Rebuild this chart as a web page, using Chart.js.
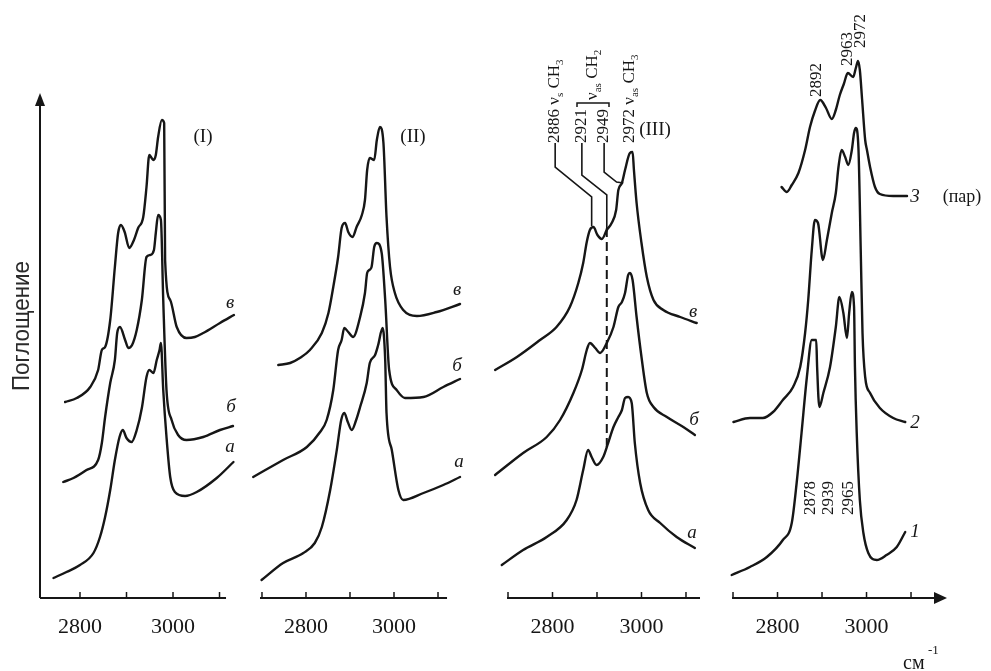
<!DOCTYPE html>
<html><head><meta charset="utf-8">
<script src="https://cdn.jsdelivr.net/npm/chart.js@4.4.0/dist/chart.umd.min.js"></script>
<style>
html,body{margin:0;padding:0;background:#fff;}
#wrap{position:relative;width:991px;height:671px;overflow:hidden;background:#fff;}
#wrap canvas{position:absolute;left:0;top:0;}
</style></head><body>
<div id="wrap">
<canvas id="c1" width="991" height="671"></canvas>
<canvas id="c2" width="991" height="671"></canvas>
<canvas id="c3" width="991" height="671"></canvas>
<canvas id="c4" width="991" height="671"></canvas>
</div>
<script>
// ---------- DATA (wavenumber, cm-1 ; absorbance, arb. units, curves offset) ----------
// Panel I
const wnIa  = [2743,2771,2800,2829,2843,2854,2865,2875,2885,2892,2900,2911,2922,2933,2943,2949,2958,2965,2971,2974,2979,2986,2994,3004,3026,3051,3094,3130];
const absIa = [0.20,0.26,0.33,0.45,0.61,0.81,1.08,1.38,1.61,1.68,1.60,1.56,1.68,1.90,2.21,2.28,2.25,2.38,2.48,2.55,2.08,1.61,1.21,1.06,1.02,1.06,1.20,1.36];
const wnIb  = [2764,2786,2814,2839,2847,2854,2865,2875,2880,2886,2897,2904,2912,2922,2933,2943,2951,2959,2963,2968,2974,2979,2986,2997,3011,3029,3065,3101,3129];
const absIb = [1.16,1.20,1.28,1.38,1.55,1.81,2.15,2.38,2.65,2.71,2.58,2.50,2.53,2.68,2.98,3.41,3.43,3.48,3.65,3.83,3.78,2.98,2.08,1.78,1.63,1.58,1.61,1.68,1.72];
const wnIc  = [2768,2793,2822,2839,2847,2854,2865,2875,2882,2888,2896,2906,2916,2925,2936,2943,2949,2954,2958,2963,2968,2976,2981,2983,2994,3008,3029,3047,3065,3101,3131];
const absIc = [1.96,2.00,2.11,2.28,2.48,2.51,2.78,3.31,3.65,3.73,3.66,3.50,3.58,3.70,3.81,4.11,4.43,4.40,4.38,4.43,4.61,4.78,4.75,3.38,2.98,2.71,2.60,2.61,2.65,2.75,2.83];
// Panel II
const wnIIa  = [2699,2748,2794,2820,2836,2855,2870,2880,2887,2895,2904,2914,2923,2938,2945,2957,2964,2974,2980,2983,2995,3010,3021,3067,3112,3150];
const absIIa = [0.18,0.35,0.45,0.55,0.71,1.08,1.48,1.78,1.85,1.76,1.68,1.78,1.91,2.15,2.35,2.43,2.53,2.70,2.38,1.85,1.48,1.08,0.98,1.05,1.13,1.21];
const wnIIb  = [2680,2748,2802,2832,2847,2862,2873,2881,2887,2896,2907,2923,2934,2939,2944,2949,2955,2961,2972,2980,2989,3006,3025,3067,3112,3150];
const absIIb = [1.21,1.38,1.51,1.66,1.78,2.08,2.48,2.58,2.70,2.66,2.61,2.81,3.05,3.25,3.28,3.31,3.51,3.55,3.45,2.98,2.28,2.08,2.00,2.01,2.11,2.19];
const wnIIc  = [2737,2764,2786,2809,2836,2851,2862,2873,2881,2889,2896,2906,2915,2927,2934,2939,2945,2955,2961,2968,2976,2983,2991,3002,3021,3052,3097,3150];
const absIIc = [2.33,2.35,2.40,2.48,2.65,2.85,3.11,3.41,3.70,3.75,3.66,3.61,3.71,3.83,3.98,4.28,4.40,4.38,4.58,4.71,4.55,3.81,3.31,3.05,2.88,2.82,2.86,2.94];
// Panel III
const wnIIIa  = [2686,2734,2787,2832,2854,2869,2880,2888,2899,2914,2925,2937,2948,2956,2963,2970,2978,2985,2997,3015,3042,3079,3120];
const absIIIa = [0.33,0.48,0.61,0.78,0.98,1.28,1.48,1.41,1.33,1.41,1.55,1.71,1.81,1.88,2.00,2.01,1.95,1.55,1.15,0.88,0.75,0.61,0.50];
const wnIIIb  = [2671,2734,2787,2817,2847,2866,2877,2884,2896,2907,2922,2937,2948,2956,2963,2970,2974,2980,2989,3000,3012,3027,3057,3094,3120];
const absIIIb = [1.23,1.45,1.61,1.78,2.05,2.28,2.48,2.55,2.50,2.45,2.55,2.71,2.91,2.96,3.05,3.23,3.25,3.18,2.81,2.41,2.05,1.91,1.81,1.71,1.63];
const wnIIIc  = [2671,2720,2772,2809,2839,2858,2869,2877,2884,2892,2901,2911,2922,2933,2943,2948,2956,2963,2974,2980,2983,2989,3000,3012,3027,3049,3087,3124];
const absIIIc = [2.28,2.41,2.58,2.71,2.91,3.15,3.35,3.56,3.68,3.71,3.63,3.59,3.68,3.75,3.88,4.08,4.15,4.28,4.45,4.46,4.28,3.95,3.55,3.21,2.98,2.88,2.81,2.75];
// Panel IV
const wnIV1  = [2697,2738,2776,2812,2832,2843,2854,2866,2877,2887,2889,2894,2903,2918,2931,2939,2948,2956,2961,2967,2972,2974,2978,2985,2993,3004,3023,3045,3068,3087];
const absIV1 = [0.23,0.31,0.41,0.58,0.75,1.15,1.65,2.21,2.58,2.58,2.31,1.91,2.05,2.31,2.71,3.01,2.85,2.60,2.85,3.06,2.91,2.31,1.65,0.98,0.65,0.45,0.38,0.43,0.51,0.66];
const wnIV2  = [2701,2738,2767,2790,2812,2835,2851,2862,2869,2877,2884,2891,2902,2911,2922,2931,2937,2944,2952,2959,2967,2972,2976,2982,2987,2991,2997,3008,3030,3060,3087];
const absIV2 = [1.76,1.80,1.80,1.86,1.98,2.11,2.31,2.65,2.98,3.48,3.78,3.75,3.38,3.58,3.85,4.05,4.31,4.48,4.41,4.33,4.48,4.65,4.70,4.48,3.48,2.65,2.21,2.05,1.90,1.80,1.76];
const wnIV3  = [2809,2821,2832,2847,2862,2873,2884,2896,2909,2922,2931,2940,2949,2958,2970,2976,2981,2985,2990,2997,3001,3008,3019,3030,3060,3091];
const absIV3 = [4.11,4.06,4.13,4.25,4.48,4.71,4.87,4.98,4.90,4.79,4.88,5.03,5.14,5.25,5.21,5.30,5.37,5.28,4.99,4.58,4.48,4.31,4.11,4.04,4.02,4.02];

// axis ticks
const tickValues = [2700, 2800, 2900, 3000, 3100];
const tickLabels = [2800, 3000];

// band assignments (panel III leaders, data units)
const leader2886 = [[2806,4.55],[2806,4.31],[2888,4.01],[2888,3.72]];
const leader2921 = [[2866,4.55],[2866,4.23],[2922,4.03],[2922,3.70]];
const leader2949 = [[2916,4.55],[2916,4.26],[2944,4.16],[2959,4.15]];
const dashed2921 = [[2922,3.70],[2922,1.51]];

// ---------- helpers ----------
function zip(xs, ys){ const n=Math.min(xs.length, ys.length); const o=[]; for(let i=0;i<n;i++) o.push({x:xs[i], y:ys[i]}); return o; }
const SERIF = '"Liberation Serif", "Times New Roman", serif';
const INK = '#161616';

function rotRich(ctx, x, yb, parts, size){
  ctx.save(); ctx.translate(x, yb); ctx.rotate(-Math.PI/2);
  ctx.textBaseline='middle'; ctx.textAlign='left'; ctx.fillStyle=INK;
  let cx=0;
  for(const p of parts){
    const s = p.sub ? size*0.65 : size;
    ctx.font = s + 'px ' + SERIF;
    ctx.fillText(p.t, cx, p.sub ? size*0.28 : 0);
    cx += ctx.measureText(p.t).width;
  }
  ctx.restore();
}
function txt(ctx, s, x, y, size, italic){
  ctx.save(); ctx.fillStyle=INK; ctx.font=(italic?'italic ':'')+size+'px '+SERIF;
  ctx.textAlign='center'; ctx.textBaseline='middle'; ctx.fillText(s,x,y); ctx.restore();
}
function polyData(chart, pts, dash, lw){
  const xs=chart.scales.x, ys=chart.scales.y, ctx=chart.ctx;
  ctx.save(); ctx.strokeStyle=INK; ctx.lineWidth=lw||1.6; ctx.setLineDash(dash||[]);
  ctx.beginPath();
  pts.forEach((p,i)=>{ const X=xs.getPixelForValue(p[0]), Y=ys.getPixelForValue(p[1]); i?ctx.lineTo(X,Y):ctx.moveTo(X,Y); });
  ctx.stroke(); ctx.restore();
}

function decor(cfg){
  return { id:'decor'+cfg.id, afterDraw(chart){
    const ctx=chart.ctx, xs=chart.scales.x, ys=chart.scales.y;
    const y0 = ys.getPixelForValue(0);
    const xa = xs.getPixelForValue(cfg.axisFrom), xb = xs.getPixelForValue(cfg.axisTo);
    ctx.save(); ctx.strokeStyle=INK; ctx.fillStyle=INK; ctx.lineWidth=2;
    ctx.beginPath(); ctx.moveTo(xa,y0); ctx.lineTo(cfg.arrowX ? xb-10 : xb, y0); ctx.stroke();
    ctx.lineWidth=1.5;
    tickValues.forEach(v=>{ if(v>=cfg.axisFrom && v<=cfg.axisTo){ const X=xs.getPixelForValue(v); ctx.beginPath(); ctx.moveTo(X,y0); ctx.lineTo(X,y0-6); ctx.stroke(); }});
    if(cfg.arrowX){ ctx.beginPath(); ctx.moveTo(xb,y0); ctx.lineTo(xb-13,y0-6); ctx.lineTo(xb-13,y0+6); ctx.closePath(); ctx.fill(); }
    if(cfg.yAxis){
      const yt = ys.getPixelForValue(cfg.yAxisTop);
      ctx.lineWidth=2; ctx.beginPath(); ctx.moveTo(xa,y0); ctx.lineTo(xa,yt+10); ctx.stroke();
      ctx.beginPath(); ctx.moveTo(xa,yt); ctx.lineTo(xa-5,yt+13); ctx.lineTo(xa+5,yt+13); ctx.closePath(); ctx.fill();
    }
    ctx.restore();
    tickLabels.forEach(v=>{ ctx.save(); ctx.fillStyle=INK; ctx.font='22px '+SERIF; ctx.textAlign='center'; ctx.textBaseline='middle'; ctx.fillText(String(v), xs.getPixelForValue(v), 627); ctx.restore(); });
    (cfg.labels||[]).forEach(l=>txt(ctx,l.t,l.x,l.y,l.s||19,l.i));
    (cfg.rot||[]).forEach(r=>rotRich(ctx,r.x,r.y,r.parts,r.s||17));
    if(cfg.extra) cfg.extra(chart);
  }};
}

function makePanel(id, cfg){
  return new Chart(document.getElementById(id), {
    type:'line',
    data:{ datasets: cfg.series.map(s=>({ data:zip(s[0],s[1]), borderColor:INK, borderWidth:2.4, pointRadius:0, fill:false,
      cubicInterpolationMode:'monotone', borderJoinStyle:'round', borderCapStyle:'round', clip:false })) },
    options:{
      responsive:false, animation:false, events:[], devicePixelRatio:1,
      layout:{ padding:{ left:cfg.areaL, right:991-cfg.areaR, top:0, bottom:73 } },
      plugins:{ legend:{display:false}, tooltip:{enabled:false}, title:{display:false} },
      scales:{ x:{ type:'linear', min:cfg.xmin, max:cfg.xmax, display:false },
               y:{ type:'linear', min:0, max:5.98, display:false } }
    },
    plugins:[decor(cfg)]
  });
}

// ---------- panels ----------
makePanel('c1', { id:1, areaL:30, areaR:245, xmin:2692.5, xmax:3154.8, axisFrom:2714, axisTo:3114, yAxis:true, yAxisTop:5.05,
  series:[[wnIa,absIa],[wnIb,absIb],[wnIc,absIc]],
  labels:[{t:'(I)',x:203,y:137},{t:'в',x:230,y:303,i:true},{t:'б',x:231,y:407,i:true},{t:'а',x:230,y:447,i:true}],
  extra(chart){
    const ctx=chart.ctx; ctx.save(); ctx.translate(22,326); ctx.rotate(-Math.PI/2);
    ctx.font='24px "Liberation Sans", Arial, sans-serif'; ctx.fillStyle='#2a2a2a'; ctx.textAlign='center'; ctx.textBaseline='middle';
    const w=ctx.measureText('Поглощение').width; ctx.scale(130/w,1); ctx.fillText('Поглощение',0,0); ctx.restore();
  }
});
makePanel('c2', { id:2, areaL:245, areaR:470, xmin:2661.4, xmax:3172.7, axisFrom:2695.5, axisTo:3120.5,
  series:[[wnIIa,absIIa],[wnIIb,absIIb],[wnIIc,absIIc]],
  labels:[{t:'(II)',x:413,y:137},{t:'в',x:457,y:290,i:true},{t:'б',x:457,y:366,i:true},{t:'а',x:459,y:462,i:true}]
});
makePanel('c3', { id:3, areaL:485, areaR:715, xmin:2648.3, xmax:3165.2, axisFrom:2697.8, axisTo:3131.5,
  series:[[wnIIIa,absIIIa],[wnIIIb,absIIIb],[wnIIIc,absIIIc]],
  labels:[{t:'(III)',x:655,y:130},{t:'в',x:693,y:312,i:true},{t:'б',x:694,y:420,i:true},{t:'а',x:692,y:533,i:true}],
  rot:[
    {x:555,y:143,parts:[{t:'2886 ν'},{t:'s',sub:true},{t:' CH'},{t:'3',sub:true}]},
    {x:582,y:143,parts:[{t:'2921'}]},
    {x:604,y:143,parts:[{t:'2949'}]},
    {x:593,y:100,parts:[{t:'ν'},{t:'as',sub:true},{t:' CH'},{t:'2',sub:true}]},
    {x:630,y:143,parts:[{t:'2972 ν'},{t:'as',sub:true},{t:' CH'},{t:'3',sub:true}]}
  ],
  extra(chart){
    polyData(chart, leader2886); polyData(chart, leader2921); polyData(chart, leader2949);
    polyData(chart, dashed2921, [9,5], 2);
    const ctx=chart.ctx; ctx.save(); ctx.strokeStyle=INK; ctx.lineWidth=1.5;
    ctx.beginPath(); ctx.moveTo(577,107); ctx.lineTo(577,103); ctx.lineTo(609,103); ctx.lineTo(609,107); ctx.stroke(); ctx.restore();
  }
});
makePanel('c4', { id:4, areaL:725, areaR:950, xmin:2682.0, xmax:3187.6, axisFrom:2697.8, axisTo:3180.9, arrowX:true,
  series:[[wnIV1,absIV1],[wnIV2,absIV2],[wnIV3,absIV3]],
  labels:[{t:'3',x:915,y:197,i:true},{t:'(пар)',x:962,y:197,s:18},{t:'2',x:915,y:423,i:true},{t:'1',x:915,y:532,i:true}],
  rot:[
    {x:817,y:97,parts:[{t:'2892'}]},{x:848,y:66,parts:[{t:'2963'}]},{x:861,y:48,parts:[{t:'2972'}]},
    {x:811,y:515,parts:[{t:'2878'}]},{x:829,y:515,parts:[{t:'2939'}]},{x:849,y:515,parts:[{t:'2965'}]}
  ],
  extra(chart){
    const ctx=chart.ctx; ctx.save(); ctx.fillStyle=INK; ctx.font='20px '+SERIF; ctx.textBaseline='alphabetic'; ctx.textAlign='left';
    ctx.fillText('см',903,669); ctx.font='13px '+SERIF; ctx.fillText('-1',928,654); ctx.restore();
  }
});
</script>
</body></html>
